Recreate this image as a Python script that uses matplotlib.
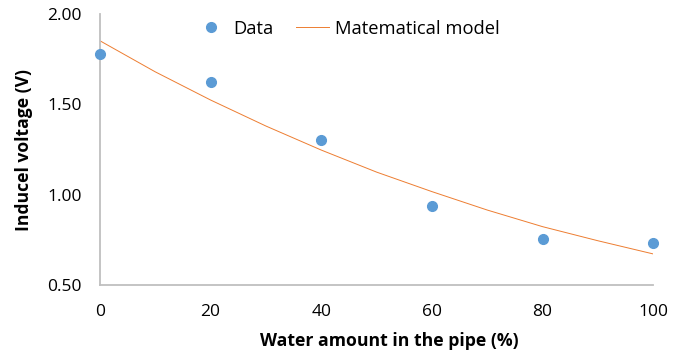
import matplotlib
matplotlib.use("Agg")
import matplotlib.pyplot as plt

# Data
water_pct = [0, 20, 40, 60, 80, 100]
voltage = [1.78, 1.625, 1.30, 0.937, 0.755, 0.731]

model_x = [0, 10, 20, 30, 40, 50, 60, 70, 80, 90, 100]
model_y = [1.852, 1.68, 1.524, 1.38, 1.247, 1.125, 1.017, 0.915, 0.823, 0.745, 0.672]

xticks = [0, 20, 40, 60, 80, 100]
yticks = [0.5, 1.0, 1.5, 2.0]

plt.rcParams['font.family'] = ['Open Sans', 'DejaVu Sans']

fig = plt.figure(figsize=(6.84, 3.56), dpi=100)
ax = fig.add_axes([0.146, 0.1994, 0.809, 0.7613])

ax.plot(model_x, model_y, color='#ed7d31', lw=0.7, label='Matematical model', zorder=2)
ax.plot(water_pct, voltage, 'o', color='#5b9bd5', markersize=7, label='Data', zorder=3, clip_on=False)

ax.set_xlim(0, 100)
ax.set_ylim(0.5, 2.0)
ax.set_xticks(xticks)
ax.set_xticklabels([str(v) for v in xticks])
ax.set_yticks(yticks)
ax.set_yticklabels([f"{v:.2f}" for v in yticks])
ax.tick_params(length=0, labelsize=12.5, colors='#000000')
ax.tick_params(axis='x', pad=14)
ax.tick_params(axis='y', pad=13)

for s in ['top', 'right']:
    ax.spines[s].set_visible(False)
for s in ['left', 'bottom']:
    ax.spines[s].set_color('#bfbfbf')
    ax.spines[s].set_linewidth(1.3)

ax.set_xlabel('Water amount in the pipe (%)', fontsize=12.7, fontweight='bold')
ax.xaxis.set_label_coords(0.523, -0.175)
ax.set_ylabel('Inducel voltage (V)', fontsize=12.6, fontweight='bold', labelpad=10)

handles, labels = ax.get_legend_handles_labels()
ax.legend([handles[1], handles[0]], [labels[1], labels[0]], ncol=2, frameon=False,
          loc='center', bbox_to_anchor=(0.447, 0.945), fontsize=13.2,
          handlelength=1.8, columnspacing=1.25, handletextpad=0.3)

fig.savefig('out.png', dpi=100)
